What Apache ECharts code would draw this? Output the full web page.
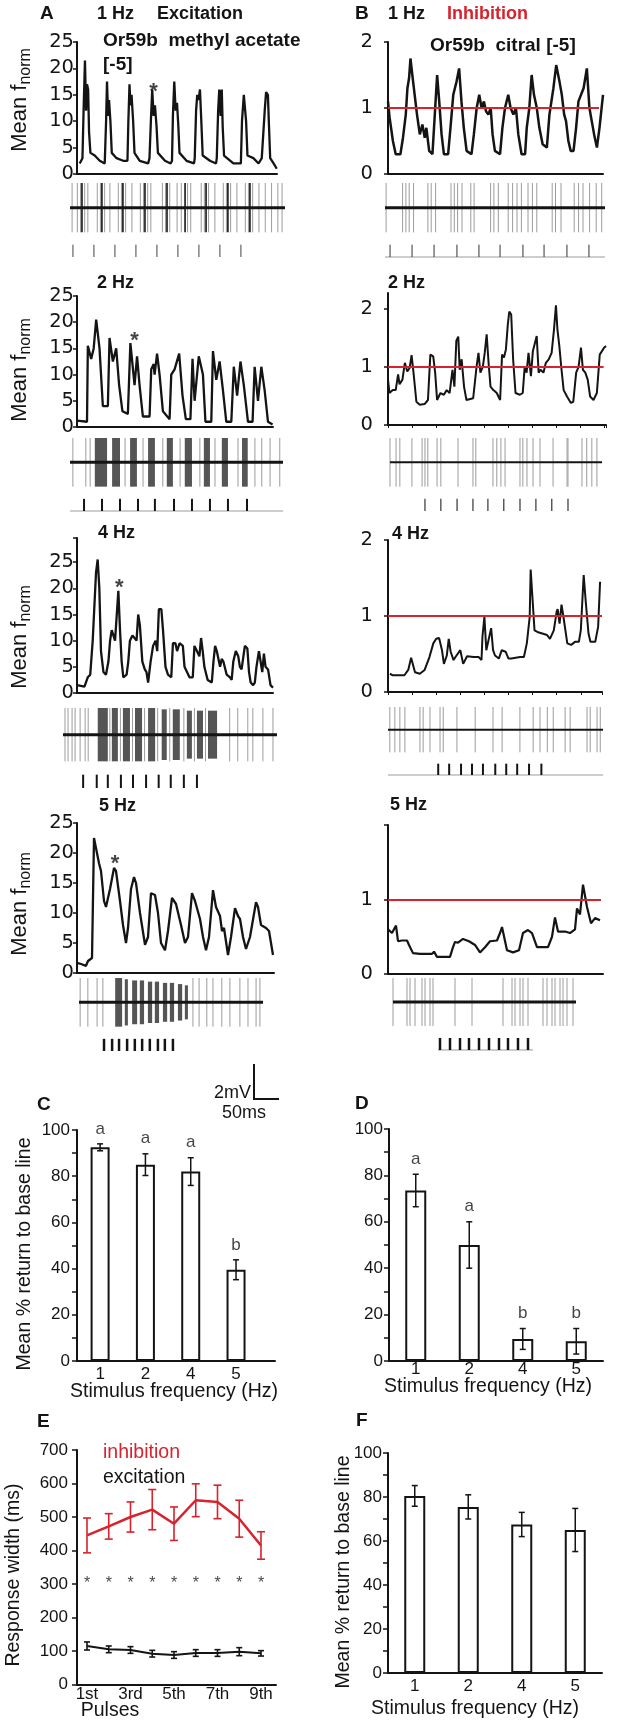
<!DOCTYPE html>
<html><head><meta charset="utf-8">
<script src="https://cdn.jsdelivr.net/npm/echarts@6/dist/echarts.min.js"></script>
<style>html,body{margin:0;padding:0;background:#fff}#c{width:627px;height:1732px}</style>
</head><body><div id="c"></div>
<script>
// ---------------- DATA ----------------
// Mean f_norm traces, [time (s), value]
const traceA1 = [[0.12,2],[0.24,3],[0.29,12],[0.35,21.5],[0.40,12],[0.44,17],[0.49,16],[0.53,8],[0.59,4],[0.78,3.5],[1.00,2.5],[1.22,2],[1.28,10],[1.32,17.5],[1.37,11],[1.41,14],[1.47,10],[1.53,4],[1.74,3],[2.03,2.5],[2.22,2.5],[2.26,10],[2.31,17],[2.35,13],[2.40,15],[2.47,10],[2.53,4],[2.76,2.5],[3.13,2],[3.19,3],[3.25,10],[3.31,16],[3.37,11],[3.43,13],[3.50,9],[3.56,4],[3.87,2.5],[4.12,2],[4.18,2.5],[4.22,11],[4.28,17.5],[4.34,12],[4.40,13.5],[4.46,9],[4.51,4],[4.82,2.5],[5.15,2],[5.18,3],[5.24,12],[5.29,15],[5.35,14],[5.41,16],[5.47,10],[5.53,3.5],[5.85,2.5],[6.12,2],[6.15,3],[6.21,12],[6.26,16],[6.32,11],[6.37,16],[6.41,9],[6.47,3.5],[6.88,2],[7.21,2],[7.26,10],[7.34,15],[7.40,12],[7.44,10],[7.50,3.5],[7.76,3],[7.99,2],[8.13,3],[8.21,3],[8.26,12],[8.32,15.5],[8.40,15],[8.44,10],[8.50,3],[8.65,2],[8.79,1]];
const traceA2 = [[0,1.2],[0.24,1],[0.26,15.5],[0.34,13],[0.40,15],[0.46,20.5],[0.54,15],[0.62,4],[0.74,4],[0.78,17],[0.86,12.5],[0.94,15],[1.01,8],[1.09,3],[1.22,2.5],[1.28,16],[1.38,8],[1.44,13.5],[1.50,8],[1.58,2],[1.74,2],[1.78,11],[1.84,12],[1.86,10],[1.92,14],[1.98,10],[2.06,3],[2.22,1.5],[2.26,10],[2.34,11],[2.45,14],[2.53,6],[2.61,1.5],[2.72,1.5],[2.77,13],[2.82,5],[2.92,13.5],[3.02,10],[3.08,1],[3.22,1],[3.26,14.5],[3.34,9],[3.42,12.5],[3.50,7],[3.58,1],[3.70,1],[3.76,11.5],[3.84,6],[3.92,12.5],[4.00,8],[4.10,1],[4.21,1],[4.26,11.5],[4.34,5],[4.42,11.5],[4.50,7],[4.58,1],[4.69,0.5]];
const traceA4 = [[0,1.5],[0.09,1.2],[0.13,3],[0.16,3.5],[0.19,10],[0.23,23],[0.25,25.5],[0.27,20],[0.29,8],[0.32,4],[0.35,3.5],[0.38,6],[0.40,10],[0.42,12],[0.44,11],[0.46,10],[0.50,19.5],[0.52,12],[0.54,6],[0.56,3],[0.60,3.5],[0.62,6],[0.64,10],[0.67,11],[0.72,10],[0.74,15],[0.76,13],[0.79,6],[0.82,4.5],[0.84,4],[0.86,2],[0.89,6],[0.92,9],[0.95,10],[0.97,8],[0.99,16],[1.02,16],[1.04,12],[1.07,5],[1.10,3.5],[1.14,3],[1.16,9.5],[1.19,9.5],[1.21,8],[1.24,9.5],[1.28,9],[1.30,5],[1.33,4],[1.36,3],[1.40,3],[1.42,9],[1.45,8],[1.48,7],[1.50,10.5],[1.52,8],[1.54,5],[1.58,2.5],[1.63,2],[1.65,6],[1.67,9],[1.69,8],[1.73,5],[1.75,6.5],[1.77,6],[1.81,3.5],[1.85,3],[1.87,2.5],[1.89,6],[1.92,8],[1.95,7],[1.97,5],[1.99,4.5],[2.03,9],[2.06,8.5],[2.08,4],[2.10,2],[2.13,1.5],[2.15,2],[2.17,5],[2.20,8],[2.22,6],[2.24,4],[2.26,7.5],[2.28,5],[2.31,4.5],[2.34,1.5],[2.37,1]];
const traceA5 = [[0,1.7],[0.04,1.5],[0.09,1.2],[0.11,2],[0.15,2.5],[0.17,22.5],[0.22,18.3],[0.24,17],[0.27,12],[0.29,11],[0.33,14],[0.37,17.5],[0.39,17],[0.43,12],[0.46,8],[0.49,5],[0.51,7.5],[0.54,14],[0.57,16],[0.59,15],[0.63,10],[0.68,4.7],[0.71,6],[0.74,13.3],[0.78,13],[0.81,10],[0.84,5],[0.88,3.8],[0.91,7],[0.95,12.5],[0.99,11.5],[1.01,11.5],[1.04,8],[1.08,5],[1.11,6],[1.15,13.3],[1.18,12],[1.23,9],[1.26,6],[1.29,3.8],[1.32,6],[1.36,13.8],[1.39,11],[1.43,9.5],[1.45,7],[1.47,7.5],[1.51,3],[1.54,6],[1.58,10.8],[1.61,9.5],[1.63,9],[1.66,6],[1.69,4],[1.73,6],[1.79,11.8],[1.81,11],[1.84,8],[1.86,8],[1.89,7.5],[1.92,7],[1.94,5],[1.96,3]];
const traceB1 = [[0,1.1],[0.07,0.85],[0.21,0.5],[0.33,0.3],[0.53,0.3],[0.64,0.55],[0.76,0.9],[0.83,1.3],[0.9,1.45],[0.96,1.75],[1.04,1.5],[1.14,1.2],[1.24,0.9],[1.36,0.6],[1.47,0.75],[1.57,0.55],[1.64,0.7],[1.76,0.35],[1.9,0.3],[2.0,0.9],[2.1,1.5],[2.19,1.1],[2.29,0.6],[2.39,0.3],[2.57,0.3],[2.67,0.7],[2.79,1.2],[2.93,1.4],[3.04,1.6],[3.14,1.1],[3.24,0.7],[3.36,0.35],[3.57,0.3],[3.67,0.6],[3.79,1.0],[3.9,1.2],[4.0,1.0],[4.1,1.1],[4.19,0.95],[4.29,0.9],[4.39,1.0],[4.47,0.6],[4.57,0.35],[4.79,0.3],[4.89,0.7],[5.0,1.0],[5.14,1.2],[5.24,1.0],[5.36,0.9],[5.47,1.0],[5.57,0.6],[5.71,0.3],[5.86,0.3],[5.93,0.7],[6.04,1.0],[6.14,1.5],[6.24,1.2],[6.36,1.0],[6.47,0.7],[6.61,0.45],[6.79,0.4],[6.9,0.9],[7.07,1.3],[7.19,1.65],[7.33,1.4],[7.43,1.2],[7.53,0.9],[7.61,0.8],[7.71,0.5],[7.81,0.35],[7.93,0.35],[8.04,0.7],[8.14,1.1],[8.36,1.3],[8.5,1.6],[8.61,1.0],[8.71,0.8],[8.81,0.6],[8.93,0.4],[9.04,0.7],[9.19,1.2]];
const traceB2 = [[0,0.78],[0.03,0.55],[0.1,0.6],[0.16,0.6],[0.21,0.87],[0.24,0.7],[0.3,0.78],[0.35,1.07],[0.4,0.92],[0.45,0.98],[0.49,1.2],[0.53,0.9],[0.59,0.4],[0.66,0.35],[0.76,0.36],[0.83,0.43],[0.88,1.21],[0.94,1.18],[0.98,0.9],[1.02,0.43],[1.09,0.55],[1.16,0.52],[1.22,0.6],[1.28,0.55],[1.34,0.95],[1.38,0.66],[1.42,1.45],[1.46,1.52],[1.49,0.95],[1.53,1.13],[1.58,0.66],[1.63,0.43],[1.77,0.46],[1.84,1.0],[1.88,1.24],[1.92,0.9],[1.97,1.0],[2.01,1.24],[2.05,1.56],[2.09,1.07],[2.13,0.66],[2.19,0.6],[2.26,0.55],[2.33,0.43],[2.37,1.21],[2.41,1.16],[2.45,1.3],[2.49,1.73],[2.52,1.95],[2.56,1.9],[2.6,1.13],[2.65,0.55],[2.74,0.52],[2.8,0.55],[2.84,1.0],[2.88,0.9],[2.92,1.24],[2.97,0.84],[3.01,1.27],[3.05,1.24],[3.09,1.53],[3.13,0.9],[3.17,0.95],[3.23,0.9],[3.28,1.07],[3.34,1.13],[3.4,1.24],[3.45,1.65],[3.49,2.06],[3.52,1.65],[3.56,1.36],[3.6,1.0],[3.65,0.6],[3.72,0.49],[3.8,0.38],[3.85,0.4],[3.91,0.9],[3.96,1.0],[4.01,1.33],[4.05,0.95],[4.1,0.9],[4.15,0.78],[4.2,0.49],[4.27,0.43],[4.34,0.55],[4.4,1.21],[4.44,1.18],[4.49,1.33],[4.53,1.36]];
const traceB4 = [[0.02,0.24],[0.05,0.22],[0.17,0.22],[0.21,0.29],[0.24,0.45],[0.26,0.44],[0.28,0.26],[0.33,0.24],[0.38,0.29],[0.43,0.46],[0.47,0.64],[0.5,0.7],[0.53,0.71],[0.56,0.55],[0.58,0.37],[0.61,0.48],[0.63,0.7],[0.65,0.53],[0.68,0.42],[0.7,0.46],[0.75,0.55],[0.78,0.37],[0.82,0.47],[0.89,0.46],[0.94,0.46],[0.97,0.42],[0.98,0.73],[1.0,0.99],[1.02,0.55],[1.04,0.53],[1.07,0.84],[1.09,0.55],[1.11,0.48],[1.15,0.44],[1.18,0.55],[1.22,0.53],[1.25,0.44],[1.28,0.44],[1.37,0.46],[1.41,0.46],[1.44,0.64],[1.47,0.99],[1.48,1.61],[1.5,1.21],[1.52,0.81],[1.55,0.79],[1.6,0.77],[1.65,0.75],[1.68,0.7],[1.72,0.81],[1.75,1.06],[1.76,1.09],[1.78,0.9],[1.8,1.15],[1.82,0.99],[1.86,0.64],[1.9,0.62],[1.94,0.66],[1.98,0.66],[2.0,0.81],[2.03,1.54],[2.05,1.21],[2.08,0.77],[2.1,0.66],[2.15,0.66],[2.18,0.86],[2.2,1.45]];
const traceB5 = [[0,0.6],[0.08,0.55],[0.16,0.65],[0.2,0.44],[0.28,0.45],[0.38,0.45],[0.42,0.39],[0.5,0.28],[0.64,0.27],[0.88,0.27],[0.92,0.3],[0.98,0.23],[1.24,0.23],[1.3,0.36],[1.34,0.43],[1.4,0.42],[1.5,0.47],[1.62,0.44],[1.74,0.39],[1.84,0.29],[1.94,0.36],[2.04,0.44],[2.18,0.45],[2.24,0.55],[2.28,0.63],[2.38,0.32],[2.5,0.29],[2.62,0.32],[2.7,0.55],[2.8,0.59],[2.88,0.55],[2.98,0.36],[3.2,0.36],[3.28,0.5],[3.34,0.76],[3.4,0.57],[3.54,0.57],[3.64,0.55],[3.74,0.6],[3.78,0.88],[3.84,0.8],[3.9,1.2],[3.98,0.9],[4.06,0.68],[4.14,0.75],[4.24,0.72]];
// asterisk annotations [time, value]
const starA1 = [3.37,15.5], starA2 = [1.38,16.4], starA4 = [0.51,20], starA5 = [0.38,18.2];

// extracellular recordings: spike times (s), bursts [start, end, relative amplitude], stimulus pulse times (s)
const spikesA1 = [0.1,0.35,0.5,0.7,0.85,1.3,1.45,1.65,1.9,2.3,2.45,2.65,2.95,3.35,3.5,3.7,3.85,4.4,4.55,4.75,5.1,5.3,5.6,5.75,6.25,6.4,6.6,6.9,7.3,7.45,7.65,7.95,8.35,8.5,8.7,9.0,9.3,9.6,9.9,10.1];
const bigSpikesA1 = [0.57,1.52,2.52,3.57,4.62,5.48,6.48,7.52,8.57];
const stimA1 = [0.14,1.14,2.14,3.14,4.14,5.14,6.14,7.14,8.14];
const spikesA2 = [0.08,0.44,0.56,1.53,2.03,2.58,3.06,3.61,4.03,4.67,5.14,5.33,5.56,5.83];
const burstsA2 = [[0.69,1.03,1],[1.17,1.39,1],[1.67,1.86,1],[2.17,2.36,1],[2.69,2.86,1],[3.19,3.39,1],[3.72,3.89,1],[4.22,4.39,1],[4.78,4.94,1]];
const stimA2 = [0.39,0.89,1.39,1.89,2.36,2.89,3.39,3.89,4.39,4.92];
const spikesA4 = [0.04,0.10,0.18,0.24,0.34,0.44,0.50,0.93,1.14,1.38,1.62,1.88,2.12,2.40,2.61,2.83,3.31,3.47,3.67,3.77,3.97,4.17];
const burstsA4 = [[0.69,0.89,1],[0.97,1.09,1],[1.19,1.33,1],[1.43,1.57,1],[1.69,1.83,1],[1.96,2.06,0.95],[2.18,2.32,0.95],[2.46,2.56,0.9],[2.66,2.78,0.9],[2.88,3.06,0.9]];
const stimA4 = [0.40,0.67,0.89,1.15,1.39,1.65,1.90,2.14,2.40,2.66];
const spikesA5 = [0.03,0.23,0.47,0.62,2.96,3.12,3.32,3.48,3.71,3.92,4.18,4.39,4.60,4.70];
const burstsA5 = [[0.94,1.12,1],[1.19,1.27,0.95],[1.38,1.51,0.9],[1.58,1.69,0.9],[1.79,1.90,0.85],[1.97,2.08,0.85],[2.18,2.29,0.8],[2.36,2.47,0.8],[2.57,2.68,0.75],[2.75,2.83,0.7]];
const stimA5 = [0.65,0.86,1.04,1.25,1.45,1.64,1.84,2.05,2.23,2.44];
const spikesB1 = [0.05,0.8,0.95,1.1,1.3,1.95,2.1,2.3,3.0,3.15,3.3,3.5,3.9,4.05,4.8,4.95,5.15,5.6,5.8,6.0,6.2,6.5,6.7,6.9,7.6,7.75,8.0,8.6,8.8,9.0,9.3,9.6,9.85];
const stimB1 = [0.23,1.23,2.23,3.27,4.27,5.23,6.27,7.23,8.27,9.27];
const spikesB2 = [0.0,0.19,0.31,0.69,1.01,1.10,1.19,1.48,1.60,2.14,2.61,2.70,3.24,3.36,3.49,3.62,4.09,4.18,4.31,4.50,4.72,5.13,5.57,5.60,6.04,6.19,6.35,6.51];
const stimB2 = [1.10,1.60,2.11,2.61,3.08,3.58,4.09,4.59,5.09,5.60];
const spikesB4 = [0.04,0.15,0.26,0.37,0.70,0.77,0.92,1.14,1.21,1.51,1.91,2.30,2.50,2.89,3.18,3.33,3.49,3.62,3.88,3.99,4.36,4.43,4.58,4.65];
const stimB4 = [1.10,1.34,1.60,1.84,2.08,2.35,2.59,2.83,3.09,3.36];
const spikesB5 = [0.0,0.28,0.34,0.44,0.58,0.64,0.74,0.80,1.24,1.58,2.20,2.38,2.44,2.54,2.60,2.70,3.00,3.08,3.18,3.24,3.34,3.40,3.48,3.60];
const stimB5 = [0.94,1.14,1.34,1.52,1.72,1.92,2.12,2.30,2.50,2.70];

// bar panels
const freqLabels = ['1','2','4','5'];
const meanC = [92.5,85,82,39.5], errC = [1.5,4.7,6,4.3], letterC = ['a','a','a','b'];
const meanD = [73.5,50,9.5,8.5], errD = [7,10,4.5,5.5], letterD = ['a','a','b','b'];
const meanF = [80.5,75.5,67.5,65], errF = [4.7,5.5,5.5,9.8];
// panel E
const pulseLabels = ['1st','2nd','3rd','4th','5th','6th','7th','8th','9th'];
const pulseNum = [1,2,3,4,5,6,7,8,9];
const inhMean = [445,472,500,522,480,550,545,495,415];
const inhErr = [52,38,45,60,50,49,50,55,41];
const excMean = [115,105,103,92,88,94,94,98,93];
const excErr = [12,10,10,10,10,10,10,12,8];
const sigLevel = 300;

// ---------------- BUILD ----------------
const RED='#d7232e', INK='#141414', GRAY='#9c9c9c';
const SANS='"Liberation Sans", Arial, sans-serif';
const DJ='"DejaVu Sans", sans-serif';
const grids=[], xAxes=[], yAxes=[], series=[], graphics=[];
const axLine={show:true, onZero:false, lineStyle:{color:INK, width:2}};

function addPanel(box, xa, ya){
  const i=grids.length;
  grids.push({left:box[0], top:box[1], width:box[2], height:box[3], containLabel:false, outerBoundsMode:'none'});
  xAxes.push(Object.assign({gridIndex:i}, xa));
  yAxes.push(Object.assign({gridIndex:i}, ya));
  return i;
}
function starSeries(i, pts, font){
  return {type:'scatter', xAxisIndex:i, yAxisIndex:i, data:pts, symbolSize:1, itemStyle:{color:'rgba(0,0,0,0)'},
    label:{show:true, position:'inside', formatter:'*', fontSize:font[0], fontWeight:font[1], fontFamily:SANS, color:INK, textBorderWidth:0}, silent:true, animation:false, z:5};
}
function tracePanel(box, xmax, ymax, yint, data, o){
  const i=addPanel(box,
    {type:'value', min:0, max:xmax, interval:o.xint, axisLine:axLine,
     axisTick:{show:!!o.xint, inside:false, length:3, lineStyle:{color:INK,width:1}}, axisLabel:{show:false}, splitLine:{show:false}},
    {type:'value', min:0, max:ymax, interval:yint, axisLine:axLine,
     axisTick:{show:true, length:4, lineStyle:{color:INK,width:1.5}},
     axisLabel:{margin:o.margin, fontFamily:DJ, fontSize:19.5, color:INK, formatter:o.fmt||'{value}'}, splitLine:{show:false}});
  const s={type:'line', xAxisIndex:i, yAxisIndex:i, data:data, symbol:'none', lineStyle:{color:INK, width:o.lw||2}, z:3, silent:true, animation:false};
  if(o.redTo!=null){
    s.markLine={silent:true, symbol:'none', label:{show:false}, animation:false,
      lineStyle:{color:RED, width:2.2, type:'solid'}, data:[[{coord:[0,1]},{coord:[o.redTo,1]}]]};
  }
  series.push(s);
  if(o.star) series.push(starSeries(i,[o.star],[22,'bold']));
  return i;
}
function vlines(i, ts, top, bot, color, w, z){
  return {type:'custom', xAxisIndex:i, yAxisIndex:i, data:ts.map(t=>[t,0]), encode:{x:0,y:1}, z:z, silent:true, animation:false, clip:false,
    renderItem:function(p,api){const t=api.value(0); const a=api.coord([t,top]), b=api.coord([t,bot]);
      return {type:'line', shape:{x1:a[0],y1:a[1],x2:b[0],y2:b[1]}, style:{stroke:color, lineWidth:w}};}};
}
function rects(i, bs){
  return {type:'custom', xAxisIndex:i, yAxisIndex:i, data:bs, encode:{x:[0,1],y:2}, z:3, silent:true, animation:false, clip:false,
    renderItem:function(p,api){const a=api.coord([api.value(0),api.value(2)]), b=api.coord([api.value(1),-api.value(2)]);
      return {type:'rect', shape:{x:a[0],y:a[1],width:Math.max(1,b[0]-a[0]),height:b[1]-a[1]}, style:{fill:INK, opacity:0.72}};}};
}
function spikeRow(box, xmax, d){
  const i=addPanel(box, {type:'value', min:0, max:xmax, show:false}, {type:'value', min:-2, max:1, show:false});
  if(d.spikes) series.push(vlines(i, d.spikes, 1, -1, GRAY, 1, 2));
  if(d.dark) series.push(vlines(i, d.dark, 1, -1, INK, 1.6, 3));
  if(d.bursts) series.push(rects(i, d.bursts));
  series.push({type:'line', xAxisIndex:i, yAxisIndex:i, data:[[0,0],[xmax,0]], symbol:'none', lineStyle:{color:INK,width:d.bw}, z:4, silent:true, animation:false, clip:false});
  series.push(vlines(i, d.stim, -1.5, -2, d.sc||INK, d.sw, 3));
  if(d.under) series.push({type:'line', xAxisIndex:i, yAxisIndex:i, data:[[d.under[0],-2],[d.under[1],-2]], symbol:'none', lineStyle:{color:GRAY,width:1}, z:2, silent:true, animation:false, clip:false});
}
function errSeries(i, xs, m, e, color, w, cap){
  return {type:'custom', xAxisIndex:i, yAxisIndex:i, data:xs.map((x,k)=>[x, m[k]-e[k], m[k]+e[k]]), encode:{x:0,y:[1,2]}, z:6, silent:true, animation:false, clip:false,
    renderItem:function(p,api){const lo=api.coord([api.value(0),api.value(1)]), hi=api.coord([api.value(0),api.value(2)]);
      const st={stroke:color, lineWidth:w};
      return {type:'group', children:[
        {type:'line', shape:{x1:lo[0],y1:lo[1],x2:hi[0],y2:hi[1]}, style:st},
        {type:'line', shape:{x1:lo[0]-cap,y1:lo[1],x2:lo[0]+cap,y2:lo[1]}, style:st},
        {type:'line', shape:{x1:hi[0]-cap,y1:hi[1],x2:hi[0]+cap,y2:hi[1]}, style:st}]};}};
}
function letterSeries(i, xs, m, e, letters, dist){
  return {type:'scatter', xAxisIndex:i, yAxisIndex:i, data:xs.map((x,k)=>[x, m[k]+e[k]]), symbolSize:1, itemStyle:{color:'rgba(0,0,0,0)'},
    label:{show:true, position:'top', distance:dist, formatter:p=>letters[p.dataIndex], fontSize:17, fontFamily:SANS, color:INK}, silent:true, animation:false, z:6};
}
const pctY = (ymargin)=>({type:'value', min:0, max:100, interval:10, axisLine:axLine,
  axisTick:{show:true, length:5, lineStyle:{color:INK,width:1.5}},
  axisLabel:{margin:ymargin, fontFamily:SANS, fontSize:17, color:INK, formatter:v=>(v%20===0?String(v):'')}, splitLine:{show:false}});

// traces
const fiveFmt = v=>(v%5===0?String(v):'');
tracePanel([77,42,200,132], 8.8, 25, 5, traceA1, {margin:3, lw:2.3, star:starA1});
tracePanel([77,296,196,131], 4.7, 25, 5, traceA2, {margin:3, lw:2.3, star:starA2});
tracePanel([77,538,196,155], 2.37, 29.6, 5, traceA4, {margin:3, lw:2.3, star:starA4, fmt:fiveFmt});
tracePanel([77,823,197,150], 1.97, 25, 5, traceA5, {margin:3, lw:2.3, star:starA5});
tracePanel([388,42,215,132], 9.19, 2, 1, traceB1, {margin:15, lw:2.5, redTo:9.02});
tracePanel([388,293,218,132], 4.53, 2.27, 1, traceB2, {margin:15, lw:2, redTo:4.48, xint:0.5});
tracePanel([388,540,214,152], 2.22, 2, 1, traceB4, {margin:15, lw:2, redTo:2.22, xint:0.25});
tracePanel([388,825,215,149], 4.3, 2, 1, traceB5, {margin:15, lw:2.2, redTo:4.26, fmt:v=>(v===2?'':String(v))});

// recordings
spikeRow([70,183,215,74], 10.24, {spikes:spikesA1, dark:bigSpikesA1, stim:stimA1, bw:3, sw:1, sc:'#444'});
spikeRow([70,438,213,73], 5.92, {spikes:spikesA2, bursts:burstsA2, stim:stimA2, bw:3, sw:2, under:[0,5.92]});
spikeRow([63,708,214,80], 4.25, {spikes:spikesA4, bursts:burstsA4, stim:stimA4, bw:3, sw:2});
spikeRow([79,978,184,73], 4.78, {spikes:spikesA5, bursts:burstsA5, stim:stimA5, bw:3, sw:2.5});
spikeRow([385,183,220,74], 10, {spikes:spikesB1, stim:stimB1, bw:3, sw:1, sc:'#333', under:[0,10]});
spikeRow([390,438,212,73], 6.67, {spikes:spikesB2, stim:stimB2, bw:2, sw:1.2, sc:'#333'});
spikeRow([388,707,215,68], 4.71, {spikes:spikesB4, stim:stimB4, bw:2, sw:2, under:[0,4.71]});
spikeRow([393,978,183,72], 3.66, {spikes:spikesB5, stim:stimB5, bw:3, sw:2.5, under:[0.9,2.8]});

// C
(function(){
  const xs=[1,2,3,4];
  const i=addPanel([77,1130,198,231],
    {type:'value', min:0.49, max:4.86, axisLine:axLine, axisTick:{show:false}, splitLine:{show:false},
     axisLabel:{customValues:xs, margin:5, fontFamily:SANS, fontSize:17, color:INK, formatter:v=>freqLabels[Math.round(v)-1]||''}},
    pctY(7));
  series.push({type:'bar', xAxisIndex:i, yAxisIndex:i, data:xs.map((x,k)=>[x,meanC[k]]), barWidth:19,
    itemStyle:{color:'#fff', borderColor:INK, borderWidth:2}, silent:true, animation:false, z:3});
  series.push(errSeries(i, xs, meanC, errC, INK, 1.5, 3));
  series.push(letterSeries(i, xs, meanC, errC, letterC, 6));
})();
// D
(function(){
  const xs=[0,1,2,3];
  const i=addPanel([389,1129,214,232],
    {type:'category', data:freqLabels, boundaryGap:true, axisLine:axLine, axisTick:{show:false}, splitLine:{show:false},
     axisLabel:{margin:0, fontFamily:SANS, fontSize:17, color:INK}},
    pctY(6));
  series.push({type:'bar', xAxisIndex:i, yAxisIndex:i, data:meanD, barWidth:21,
    itemStyle:{color:'#fff', borderColor:INK, borderWidth:2}, silent:true, animation:false, z:3});
  series.push(errSeries(i, xs, meanD, errD, INK, 1.5, 3));
  series.push(letterSeries(i, xs, meanD, errD, letterD, 6));
})();
// F
(function(){
  const xs=[0,1,2,3];
  const i=addPanel([388,1453,214,220],
    {type:'category', data:freqLabels, boundaryGap:true, axisLine:axLine, axisTick:{show:false}, splitLine:{show:false},
     axisLabel:{margin:5, fontFamily:SANS, fontSize:17, color:INK}},
    pctY(6));
  series.push({type:'bar', xAxisIndex:i, yAxisIndex:i, data:meanF, barWidth:21,
    itemStyle:{color:'#fff', borderColor:INK, borderWidth:2}, silent:true, animation:false, z:3});
  series.push(errSeries(i, xs, meanF, errF, INK, 1.5, 3));
})();
// E
(function(){
  const i=addPanel([77,1450,199,234.5],
    {type:'value', min:0.54, max:9.69, axisLine:axLine, axisTick:{show:false}, splitLine:{show:false},
     axisLabel:{customValues:[1,3,5,7,9], margin:1, fontFamily:SANS, fontSize:17, color:INK, formatter:v=>pulseLabels[Math.round(v)-1]||''}},
    {type:'value', min:0, max:700, interval:100, axisLine:axLine, axisTick:{show:true, length:5, lineStyle:{color:INK,width:1.5}},
     axisLabel:{margin:9, fontFamily:SANS, fontSize:17, color:INK}, splitLine:{show:false}});
  series.push({type:'line', xAxisIndex:i, yAxisIndex:i, data:pulseNum.map((p,k)=>[p,inhMean[k]]), symbol:'none', lineStyle:{color:RED,width:2.5}, z:4, silent:true, animation:false});
  series.push(errSeries(i, pulseNum, inhMean, inhErr, RED, 1.6, 4));
  series.push({type:'line', xAxisIndex:i, yAxisIndex:i, data:pulseNum.map((p,k)=>[p,excMean[k]]), symbol:'none', lineStyle:{color:INK,width:2}, z:4, silent:true, animation:false});
  series.push(errSeries(i, pulseNum, excMean, excErr, INK, 1.6, 3));
  series.push(starSeries(i, pulseNum.map(p=>[p,sigLevel]), [16,'normal']));
})();

// ---------------- TEXT ----------------
function txt(x,y,text,font,fill,align){
  return {type:'text', x:x, y:y, silent:true, z:10,
    style:{text:text, font:font, fill:fill||INK, align:align||'left', verticalAlign:'middle', textAlign:align||'left', textVerticalAlign:'middle'}};
}
function vtxt(x,y,text,font){
  const t=txt(x,y,text,font,INK,'center'); t.rotation=Math.PI/2; return t;
}
function fnorm(x,y){
  return {type:'text', x:x, y:y, rotation:Math.PI/2, silent:true, z:10,
    style:{text:'{a|Mean f}{b|norm}', align:'center', verticalAlign:'middle', textAlign:'center', textVerticalAlign:'middle', fill:INK,
      rich:{a:{fontSize:22, fontFamily:SANS, lineHeight:28, fill:INK, color:INK},
            b:{fontSize:16, fontFamily:SANS, lineHeight:16, verticalAlign:'bottom', fill:INK, color:INK}}}};
}
const B18='bold 18px "Liberation Sans", Arial, sans-serif';
const B19='bold 19px "Liberation Sans", Arial, sans-serif';
const R19='19.5px "Liberation Sans", Arial, sans-serif';
graphics.push(
  txt(40,14,'A',B19), txt(97,14,'1 Hz',B18), txt(157,14,'Excitation',B18),
  txt(103,41,'Or59b  methyl acetate',B19), txt(103,65,'[-5]',B19),
  txt(355,14,'B',B19), txt(388,14,'1 Hz',B18), txt(447,14,'Inhibition',B18,RED),
  txt(430,46,'Or59b  citral [-5]',B19),
  txt(97,283,'2 Hz',B18), txt(388,283,'2 Hz',B18),
  txt(98,533,'4 Hz',B18), txt(392,534,'4 Hz',B18),
  txt(99,806,'5 Hz',B18), txt(390,805,'5 Hz',B18),
  fnorm(20,100), fnorm(20,370), fnorm(20,637), fnorm(20,904),
  txt(251,1093,'2mV','18px "Liberation Sans", Arial, sans-serif',INK,'right'),
  txt(244,1113,'50ms','18px "Liberation Sans", Arial, sans-serif',INK,'center'),
  {type:'polyline', silent:true, z:10, shape:{points:[[254,1064],[254,1099],[279,1099]]}, style:{stroke:INK, lineWidth:2, fill:null}},
  txt(37,1105,'C',B19), txt(355,1104,'D',B19), txt(37,1422,'E',B19), txt(356,1421,'F',B19),
  vtxt(25,1254,'Mean % return to base line',R19),
  txt(174,1392,'Stimulus frequency (Hz)',R19,INK,'center'),
  txt(488,1387,'Stimulus frequency (Hz)',R19,INK,'center'),
  txt(103,1453,'inhibition',R19,RED), txt(103,1478,'excitation',R19),
  vtxt(14,1575,'Response width (ms)',R19),
  txt(110,1711,'Pulses',R19,INK,'center'),
  vtxt(344,1572,'Mean % return to base line',R19),
  txt(475,1709,'Stimulus frequency (Hz)',R19,INK,'center')
);

const chart=echarts.init(document.getElementById('c'), null, {renderer:'canvas', width:627, height:1732});
chart.setOption({animation:false, backgroundColor:'#fff', textStyle:{fontFamily:SANS},
  grid:grids, xAxis:xAxes, yAxis:yAxes, series:series, graphic:{elements:graphics}});
</script></body></html>
